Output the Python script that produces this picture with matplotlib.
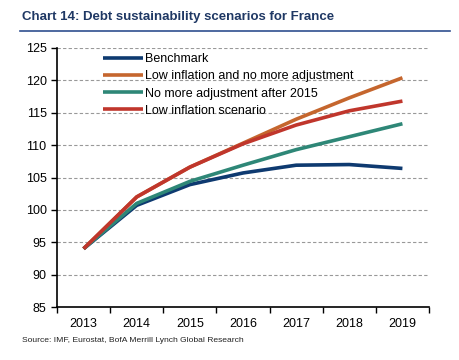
import matplotlib.pyplot as plt
from matplotlib.lines import Line2D

# Data
years = ['2013', '2014', '2015', '2016', '2017', '2018', '2019']
benchmark = [94.0, 100.7, 103.9, 105.7, 106.9, 107.0, 106.4]
low_infl_no_adj = [94.0, 102.0, 106.6, 110.3, 114.0, 117.3, 120.4]
no_adj_after_2015 = [94.0, 101.0, 104.4, 106.9, 109.3, 111.3, 113.3]
low_infl = [94.0, 102.0, 106.6, 110.2, 113.1, 115.3, 116.8]

series = [
    ('Benchmark', benchmark, '#0E3A70'),
    ('Low inflation and no more adjustment', low_infl_no_adj, '#C5662E'),
    ('No more adjustment after 2015', no_adj_after_2015, '#2E8777'),
    ('Low inflation scenario', low_infl, '#C0362C'),
]

plt.rcParams['font.family'] = ['Liberation Sans', 'DejaVu Sans']

fig = plt.figure(figsize=(4.6, 3.6), dpi=100)
ax = fig.add_axes([57 / 460, 1 - 307 / 360, 372 / 460, 259 / 360])

x = list(range(len(years)))
for label, vals, col in series:
    ax.plot(x, vals, color=col, lw=2.6, label=label, solid_capstyle='butt')

ax.set_ylim(85, 125)
ax.set_yticks(range(85, 126, 5))
ax.set_xlim(-0.5, len(years) - 0.5)
ax.set_xticks([i - 0.5 for i in range(len(years) + 1)])
ax.set_xticklabels([])
ax.set_xticks(x, minor=True)
ax.set_xticklabels(years, minor=True)
ax.tick_params(axis='x', which='major', direction='out', length=4, width=1)
ax.tick_params(axis='x', which='minor', length=0, pad=8, labelsize=9)
ax.tick_params(axis='y', direction='out', length=4, width=1, labelsize=9)

for y in range(90, 126, 5):
    ax.axhline(y, color='#999999', lw=0.8, ls=(0, (3, 2)), zorder=0)

for s in ['top', 'right']:
    ax.spines[s].set_visible(False)
for s in ['left', 'bottom']:
    ax.spines[s].set_linewidth(1.2)

ax.legend(loc='upper left', bbox_to_anchor=(0.11, 1.0), frameon=False,
          fontsize=9, handlelength=3.2, handletextpad=0.2, labelspacing=0.42,
          borderaxespad=0)

# Title and rule
fig.text(22 / 460, 1 - 17 / 360, 'Chart 14: Debt sustainability scenarios for France',
         fontsize=9.5, fontweight='bold', color='#1F3864', va='center')
fig.add_artist(Line2D([20 / 460, 450 / 460], [1 - 31 / 360, 1 - 31 / 360],
                      color='#2F4F8F', lw=1.2))

fig.text(22 / 460, 1 - 341 / 360, 'Source: IMF, Eurostat, BofA Merrill Lynch Global Research',
         fontsize=6.1, color='#222222', va='center')

fig.savefig('out.png', dpi=100)
